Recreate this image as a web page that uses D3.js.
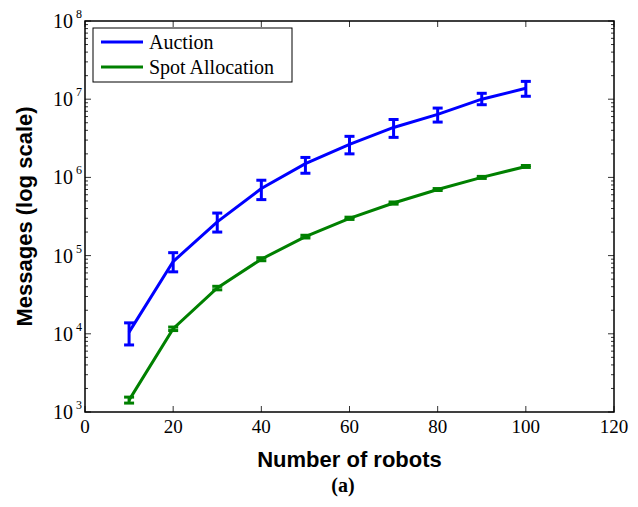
<!DOCTYPE html>
<html>
<head>
<meta charset="utf-8">
<script src="https://cdn.jsdelivr.net/npm/d3@7"></script>
<style>
  body { margin: 0; background: #fff; }
  svg { display: block; }
</style>
</head>
<body>
<div id="chart"></div>
<script>
// Data
const robots = [10, 20, 30, 40, 50, 60, 70, 80, 90, 100];
const auctionMean = [1.05e4, 8.4e4, 2.7e5, 7.2e5, 1.5e6, 2.65e6, 4.35e6, 6.4e6, 1.0e7, 1.38e7];
const auctionLow  = [0.72e4, 6.2e4, 2.0e5, 5.2e5, 1.13e6, 2.0e6, 3.25e6, 5.1e6, 0.85e7, 1.09e7];
const auctionHigh = [1.38e4, 1.09e5, 3.5e5, 9.2e5, 1.8e6, 3.35e6, 5.5e6, 7.7e6, 1.19e7, 1.69e7];
const spotMean = [1.42e3, 1.16e4, 3.85e4, 9.0e4, 1.75e5, 3.0e5, 4.7e5, 7.0e5, 1.0e6, 1.38e6];
const spotLow  = [1.3e3, 1.1e4, 3.65e4, 8.6e4, 1.68e5, 2.9e5, 4.55e5, 6.8e5, 0.97e6, 1.34e6];
const spotHigh = [1.55e3, 1.22e4, 4.05e4, 9.4e4, 1.82e5, 3.1e5, 4.85e5, 7.2e5, 1.03e6, 1.42e6];
const seriesNames = ['Auction', 'Spot Allocation'];
const seriesColors = ['#0000ff', '#008000'];
const xTicks = [0, 20, 40, 60, 80, 100, 120];
const yExponents = [3, 4, 5, 6, 7, 8];

const serif = '"Liberation Serif", Tinos, "Times New Roman", Times, "Nimbus Roman", "DejaVu Serif", serif';
const sans = '"Liberation Sans", Arial, Helvetica, sans-serif';

const W = 638, H = 507;
const margin = { top: 21, right: 24, bottom: 95, left: 85 };
const width = W - margin.left - margin.right;
const height = H - margin.top - margin.bottom;

const svg = d3.select('#chart')
    .append('svg')
    .attr('width', W)
    .attr('height', H);

const g = svg.append('g')
    .attr('transform', `translate(${margin.left},${margin.top})`);

const x = d3.scaleLinear().domain([0, 120]).range([0, width]);
const y = d3.scaleLog().domain([1e3, 1e8]).range([height, 0]);

// minor ticks (2..9 per decade)
const minor = [];
yExponents.slice(0, -1).forEach(e => {
    for (let k = 2; k <= 9; k++) minor.push(k * Math.pow(10, e));
});

const tickColor = '#333';
// y ticks left and right
[0, width].forEach((x0, side) => {
    const dir = side === 0 ? 1 : -1;
    g.selectAll(null).data(yExponents.map(e => Math.pow(10, e))).enter()
        .append('line')
        .attr('x1', x0).attr('x2', x0 + dir * 6)
        .attr('y1', d => y(d)).attr('y2', d => y(d))
        .attr('stroke', tickColor).attr('stroke-width', 1);
    g.selectAll(null).data(minor).enter()
        .append('line')
        .attr('x1', x0).attr('x2', x0 + dir * 3)
        .attr('y1', d => y(d)).attr('y2', d => y(d))
        .attr('stroke', tickColor).attr('stroke-width', 1);
});
// x ticks bottom and top
[height, 0].forEach((y0, side) => {
    const dir = side === 0 ? -1 : 1;
    g.selectAll(null).data(xTicks).enter()
        .append('line')
        .attr('x1', d => x(d)).attr('x2', d => x(d))
        .attr('y1', y0).attr('y2', y0 + dir * 6)
        .attr('stroke', tickColor).attr('stroke-width', 1);
});

// frame
g.append('rect')
    .attr('x', 0).attr('y', 0)
    .attr('width', width).attr('height', height)
    .attr('fill', 'none')
    .attr('stroke', '#000')
    .attr('stroke-width', 1.5);

// x tick labels
g.selectAll('.xlab').data(xTicks).enter()
    .append('text')
    .attr('class', 'xlab')
    .attr('x', d => x(d))
    .attr('y', height + 21)
    .attr('text-anchor', 'middle')
    .style('font-family', serif)
    .style('font-size', '19px')
    .text(d => d);

// y tick labels (10 with superscript)
yExponents.forEach(e => {
    const t = g.append('text')
        .attr('x', -13)
        .attr('y', y(Math.pow(10, e)) + 7)
        .attr('text-anchor', 'start')
        .style('font-family', serif)
        .style('font-size', '20px');
    t.append('tspan').text('10');
    t.append('tspan').attr('dx', 3).attr('dy', -10).style('font-size', '12px').text(e);
    // right-align the whole label
    const w = t.node().getComputedTextLength();
    t.attr('x', -6 - w);
});

// axis titles
svg.append('text')
    .attr('x', margin.left + width / 2)
    .attr('y', 467)
    .attr('text-anchor', 'middle')
    .style('font-family', sans)
    .style('font-weight', 'bold')
    .style('font-size', '22px')
    .text('Number of robots');

svg.append('text')
    .attr('transform', `translate(32,${margin.top + height / 2}) rotate(-90)`)
    .attr('text-anchor', 'middle')
    .style('font-family', sans)
    .style('font-weight', 'bold')
    .style('font-size', '22px')
    .text('Messages (log scale)');

svg.append('text')
    .attr('x', 343)
    .attr('y', 492)
    .attr('text-anchor', 'middle')
    .style('font-family', serif)
    .style('font-weight', 'bold')
    .style('font-size', '20px')
    .text('(a)');

// series
const series = [
    { name: seriesNames[0], color: seriesColors[0], mean: auctionMean, low: auctionLow, high: auctionHigh },
    { name: seriesNames[1], color: seriesColors[1], mean: spotMean, low: spotLow, high: spotHigh }
];

const line = d3.line()
    .x(d => x(d.x))
    .y(d => y(d.v));

series.forEach(s => {
    const pts = robots.map((r, i) => ({ x: r, v: s.mean[i], lo: s.low[i], hi: s.high[i] }));
    g.append('path')
        .datum(pts)
        .attr('d', line)
        .attr('fill', 'none')
        .attr('stroke', s.color)
        .attr('stroke-width', 3);

    const eb = g.selectAll(null).data(pts).enter().append('g');
    eb.append('line')
        .attr('x1', d => x(d.x)).attr('x2', d => x(d.x))
        .attr('y1', d => y(d.lo)).attr('y2', d => y(d.hi))
        .attr('stroke', s.color).attr('stroke-width', 3);
    eb.append('line')
        .attr('x1', d => x(d.x) - 5).attr('x2', d => x(d.x) + 5)
        .attr('y1', d => y(d.lo)).attr('y2', d => y(d.lo))
        .attr('stroke', s.color).attr('stroke-width', 3);
    eb.append('line')
        .attr('x1', d => x(d.x) - 5).attr('x2', d => x(d.x) + 5)
        .attr('y1', d => y(d.hi)).attr('y2', d => y(d.hi))
        .attr('stroke', s.color).attr('stroke-width', 3);
});

// legend
const legend = g.append('g').attr('transform', 'translate(8,7)');
legend.append('rect')
    .attr('width', 199).attr('height', 54)
    .attr('fill', '#fff')
    .attr('stroke', '#000')
    .attr('stroke-width', 1);
series.forEach((s, i) => {
    const yy = 14 + i * 25;
    legend.append('line')
        .attr('x1', 8).attr('x2', 50)
        .attr('y1', yy).attr('y2', yy)
        .attr('stroke', s.color).attr('stroke-width', 3);
    legend.append('text')
        .attr('x', 56).attr('y', yy + 7)
        .style('font-family', serif)
        .style('font-size', '20px')
        .text(s.name);
});
</script>
</body>
</html>
